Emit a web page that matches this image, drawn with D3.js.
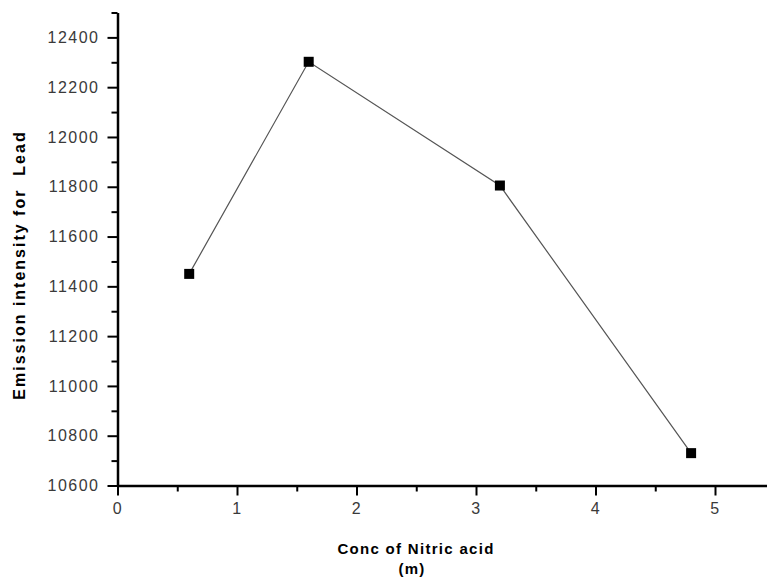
<!DOCTYPE html>
<html>
<head>
<meta charset="utf-8">
<script src="https://cdn.jsdelivr.net/npm/d3@7"></script>
<style>
  body { margin: 0; background: #fff; }
  svg { display: block; }
  .tick text { font-family: "Liberation Sans", Arial, sans-serif; font-size: 16px; fill: #3a3a3a; letter-spacing: 1.5px; }
  .lbl { font-family: "Liberation Sans", Arial, sans-serif; font-weight: bold; fill: #000; }
</style>
</head>
<body>
<svg id="chart" width="767" height="579"></svg>
<script>
// acid concentration (m) vs emission intensity for lead
var conc = [0.6, 1.6, 3.2, 4.8];
var intensity = [11450, 12302, 11805, 10730];
var xTicks = [0, 1, 2, 3, 4, 5];
var yTicks = [10600, 10800, 11000, 11200, 11400, 11600, 11800, 12000, 12200, 12400];

var plotLeft = 117.5, plotTop = 12.5, plotBottom = 485.5;

var svg = d3.select("#chart");

var x = d3.scaleLinear().domain([0, 5.5]).range([plotLeft, plotLeft + 119.5 * 5.5]);
var y = d3.scaleLinear().domain([10600, 12500]).range([plotBottom, plotTop]);

// minor ticks first
var xMinor = d3.range(0.5, 5.5, 1);
var yMinor = d3.range(10700, 12600, 200);

svg.append("g")
  .attr("transform", "translate(0," + plotBottom + ")")
  .call(d3.axisBottom(x).tickValues(xMinor).tickSize(6).tickFormat(""))
  .call(function(g) { g.select(".domain").remove(); })
  .selectAll("line").attr("stroke", "#000").attr("stroke-width", 2);

svg.append("g")
  .attr("transform", "translate(" + plotLeft + ",0)")
  .call(d3.axisLeft(y).tickValues(yMinor).tickSize(6).tickFormat(""))
  .call(function(g) { g.select(".domain").remove(); })
  .selectAll("line").attr("stroke", "#000").attr("stroke-width", 2);

// major axes
var xAxis = svg.append("g")
  .attr("transform", "translate(0," + plotBottom + ")")
  .call(d3.axisBottom(x).tickValues(xTicks).tickSize(10).tickPadding(7).tickSizeOuter(0).tickFormat(d3.format("d")));
xAxis.select(".domain").attr("stroke", "#000").attr("stroke-width", 2.5);
xAxis.selectAll(".tick line").attr("stroke", "#000").attr("stroke-width", 2);

var yAxis = svg.append("g")
  .attr("transform", "translate(" + plotLeft + ",0)")
  .call(d3.axisLeft(y).tickValues(yTicks).tickSize(10).tickPadding(8).tickSizeOuter(0).tickFormat(d3.format("d")));
yAxis.select(".domain").attr("stroke", "#000").attr("stroke-width", 2.5);
yAxis.selectAll(".tick line").attr("stroke", "#000").attr("stroke-width", 2);

// data line
var pts = conc.map(function(c, i) { return [c, intensity[i]]; });
svg.append("path")
  .datum(pts)
  .attr("fill", "none")
  .attr("stroke", "#555")
  .attr("stroke-width", 1.2)
  .attr("d", d3.line().x(function(d) { return x(d[0]); }).y(function(d) { return y(d[1]); }));

var ms = 10;
svg.selectAll("rect.pt")
  .data(pts)
  .enter().append("rect")
  .attr("class", "pt")
  .attr("x", function(d) { return x(d[0]) - ms / 2; })
  .attr("y", function(d) { return y(d[1]) - ms / 2; })
  .attr("width", ms)
  .attr("height", ms)
  .attr("fill", "#000");

// axis titles
svg.append("text")
  .attr("class", "lbl")
  .attr("x", 416)
  .attr("y", 554)
  .attr("text-anchor", "middle")
  .attr("font-size", "15px")
  .attr("letter-spacing", "1.3px")
  .text("Conc of Nitric acid");

svg.append("text")
  .attr("class", "lbl")
  .attr("x", 412)
  .attr("y", 574)
  .attr("text-anchor", "middle")
  .attr("font-size", "15px")
  .attr("letter-spacing", "1.3px")
  .text("(m)");

svg.append("text")
  .attr("class", "lbl")
  .attr("transform", "translate(25,265) rotate(-90)")
  .attr("text-anchor", "middle")
  .attr("font-size", "16px")
  .attr("letter-spacing", "2px")
  .attr("xml:space", "preserve")
  .text("Emission intensity for  Lead");
</script>
</body>
</html>
